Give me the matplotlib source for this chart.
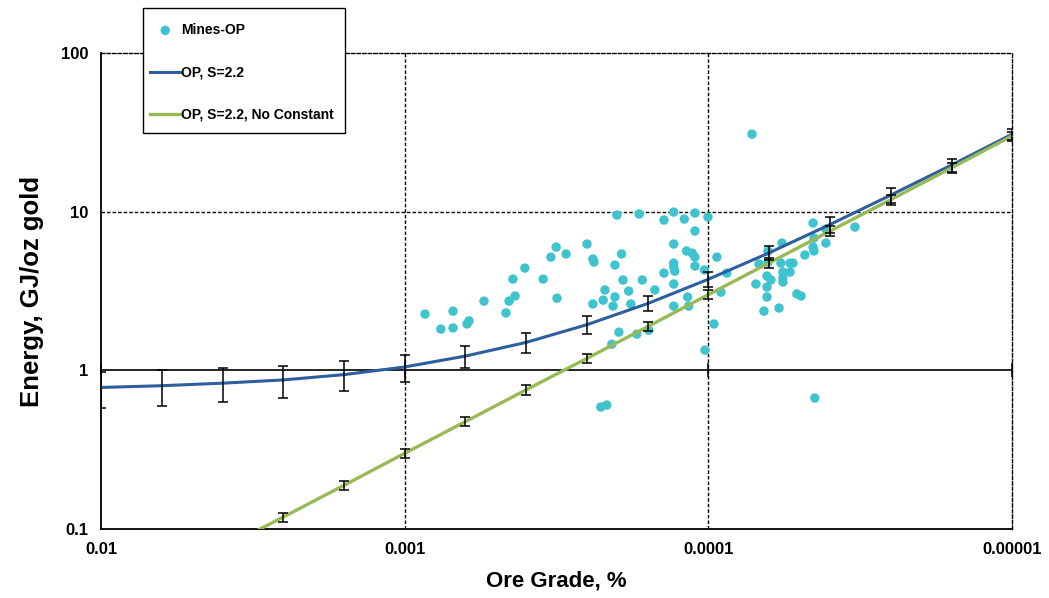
import matplotlib
matplotlib.use("Agg")
import matplotlib.pyplot as plt
from matplotlib.ticker import FixedLocator, NullLocator
from matplotlib.patches import Rectangle

plt.rcParams['font.family'] = ['Liberation Sans', 'DejaVu Sans']

# Mines-OP observations: ore grade (%) and energy (GJ/oz gold)
mine_grade = [8.57e-4, 7.60e-4, 6.93e-4, 6.93e-4, 6.23e-4, 6.14e-4, 5.48e-4, 4.64e-4, 4.53e-4, 4.33e-4,
              4.40e-4, 4.02e-4, 3.50e-4, 3.15e-4, 3.30e-4, 3.17e-4, 2.94e-4, 2.51e-4, 2.40e-4, 2.38e-4,
              2.00e-4, 1.69e-4, 1.93e-4, 2.03e-4, 1.91e-4, 2.19e-4, 2.22e-4, 2.40e-4, 2.03e-4, 2.06e-4,
              1.83e-4, 1.80e-4, 1.65e-4, 1.50e-4, 1.40e-4, 1.30e-4, 1.20e-4, 1.107e-4, 1.003e-4, 1.107e-4,
              1.30e-4, 1.18e-4, 1.13e-4, 1.107e-4, 1.30e-4, 1.30e-4, 1.29e-4, 1.40e-4, 1.107e-4, 1.03e-4,
              9.37e-5, 1.30e-4, 1.17e-4, 1.16e-4, 1.30e-4, 1.97e-4, 1.72e-4, 1.57e-4, 2.08e-4, 9.58e-5,
              1.026e-4, 2.26e-4, 2.16e-4, 8.69e-5, 9.09e-5, 6.97e-5, 6.81e-5, 6.36e-5, 6.36e-5, 6.41e-5,
              6.22e-5, 6.41e-5, 6.41e-5, 6.56e-5, 5.85e-5, 5.72e-5, 5.77e-5, 5.68e-5, 5.68e-5, 5.68e-5,
              5.38e-5, 5.38e-5, 5.26e-5, 5.11e-5, 4.95e-5, 4.81e-5, 4.52e-5, 4.49e-5, 4.52e-5, 4.49e-5,
              4.10e-5, 4.10e-5, 3.29e-5, 7.18e-5, 4.46e-5]
mine_energy = [2.26, 1.82, 2.36, 1.85, 1.96, 2.05, 2.73, 2.30, 2.73, 2.94,
               3.76, 4.41, 3.76, 2.85, 5.17, 5.98, 5.41, 6.25, 5.03, 4.81,
               9.52, 9.66, 5.41, 4.61, 3.71, 3.21, 2.77, 2.62, 2.90, 2.54,
               3.16, 2.62, 3.71, 3.21, 8.85, 9.94, 8.98, 9.80, 9.25, 7.55,
               6.25, 5.65, 5.48, 5.17, 4.74, 4.48, 4.22, 4.10, 4.54, 4.29,
               5.17, 3.50, 2.90, 2.54, 2.54, 1.74, 1.69, 1.79, 1.46, 1.96,
               1.34, 0.587, 0.604, 4.10, 3.11, 3.50, 4.68, 5.65, 4.81, 3.93,
               3.71, 3.35, 2.90, 2.36, 2.47, 6.34, 4.74, 4.16, 3.82, 3.60,
               4.74, 4.16, 4.74, 3.03, 2.94, 5.33, 8.48, 6.82, 5.98, 5.65,
               7.77, 6.34, 8.00, 30.8, 0.669]

# Model curves (values read at each error-bar grade)
model_grade = [1e-2, 6.31e-3, 3.98e-3, 2.51e-3, 1.58e-3, 1e-3, 6.31e-4, 3.98e-4,
               2.51e-4, 1.58e-4, 1e-4, 6.31e-5, 3.98e-5, 2.51e-5, 1.58e-5, 1e-5]
op_energy = [0.78, 0.80, 0.83, 0.87, 0.94, 1.05, 1.23, 1.50,
             1.94, 2.64, 3.75, 5.50, 8.29, 12.7, 19.7, 30.75]
op_err = [0.2, 0.2, 0.2, 0.2, 0.2, 0.2, 0.2, 0.22,
          0.25, 0.28, 0.4, 0.55, 0.9, 1.3, 1.8, 2.5]
opnc_energy = [0.03, 0.0475, 0.0754, 0.119, 0.189, 0.3, 0.475, 0.754,
               1.19, 1.89, 3.0, 4.75, 7.54, 11.9, 18.9, 30.0]
opnc_err = [0.002, 0.003, 0.005, 0.008, 0.012, 0.018, 0.03, 0.05,
            0.08, 0.12, 0.2, 0.35, 0.55, 0.9, 1.3, 2.0]

x_ticks = [0.01, 0.001, 0.0001, 0.00001]
x_ticklabels = ["0.01", "0.001", "0.0001", "0.00001"]
y_ticks = [0.1, 1, 10, 100]
y_ticklabels = ["0.1", "1", "10", "100"]

BLUE = "#2D5F9F"
GREEN = "#98BA56"
CYAN = "#3FC3CE"

W, H = 1049, 598
fig = plt.figure(figsize=(W/100, H/100), dpi=100)
ax = fig.add_axes([101/W, 1 - 529/H, (1012-101)/W, (529-53)/H])
ax.set_xscale('log')
ax.set_yscale('log')
ax.set_xlim(0.01, 0.00001)
ax.set_ylim(0.1, 100)

# gridlines
for g in [0.001, 0.0001]:
    ax.axvline(g, color='black', lw=1.0, ls=(0, (2.5, 1.5)), zorder=1)
ax.axhline(10, color='black', lw=1.0, ls=(0, (2.5, 1.5)), zorder=1)

ax.scatter(mine_grade, mine_energy, s=46, color=CYAN, edgecolors='none', zorder=3, label="Mines-OP")

ax.plot(model_grade, op_energy, color=BLUE, lw=2.2, zorder=4, label="OP, S=2.2")
ax.plot(model_grade, opnc_energy, color=GREEN, lw=2.4, zorder=4, label="OP, S=2.2, No Constant")
ax.errorbar(model_grade, op_energy, yerr=op_err, fmt='none', ecolor='black', elinewidth=1.1,
            capsize=3.5, capthick=1.1, zorder=5)
ax.errorbar(model_grade, opnc_energy, yerr=opnc_err, fmt='none', ecolor='black', elinewidth=1.1,
            capsize=3.5, capthick=1.1, zorder=5)

# spines
for side in ['top', 'right']:
    ax.spines[side].set_linestyle((0, (2.5, 1.5)))
    ax.spines[side].set_linewidth(1.0)
ax.spines['left'].set_linewidth(1.3)
ax.spines['bottom'].set_linestyle((0, (2.0, 1.0)))
ax.spines['bottom'].set_linewidth(1.3)

ax.xaxis.set_major_locator(FixedLocator(x_ticks))
ax.xaxis.set_minor_locator(NullLocator())
ax.set_xticklabels(x_ticklabels)
ax.yaxis.set_major_locator(FixedLocator(y_ticks))
ax.yaxis.set_minor_locator(NullLocator())
ax.set_yticklabels(y_ticklabels)
ax.tick_params(axis='both', length=0, labelsize=12)
ax.tick_params(axis='x', pad=9)
ax.tick_params(axis='y', pad=9)
for lab in ax.get_xticklabels() + ax.get_yticklabels():
    lab.set_fontweight('bold')

# horizontal axis line crossing at 1
sec = ax.secondary_xaxis(1/3)
sec.xaxis.set_major_locator(FixedLocator(x_ticks))
sec.xaxis.set_minor_locator(NullLocator())
sec.tick_params(direction='inout', length=10, width=1.1, labelbottom=False, labeltop=False)
sec.spines['bottom'].set_linewidth(1.2)
sec.spines['top'].set_linewidth(1.2)

ax.set_xlabel("Ore Grade, %", fontsize=16, fontweight='bold', labelpad=10)
ax.set_ylabel("Energy, GJ/oz gold", fontsize=18.5, fontweight='bold', labelpad=12)

# legend with a hand-placed frame
fig.patches.append(Rectangle((143/W, 1 - 133/H), (345-143)/W, (133-8)/H, transform=fig.transFigure,
                             facecolor='white', edgecolor='black', lw=1.0, zorder=10))
leg = fig.legend(loc='upper left', bbox_to_anchor=(150/W, 1 - 23/H),
                 prop={'weight': 'bold', 'size': 10}, frameon=False,
                 labelspacing=2.05, handlelength=2.2, handletextpad=0.05,
                 borderpad=0, borderaxespad=0)
leg.set_zorder(11)

fig.savefig("out.png", dpi=100)
